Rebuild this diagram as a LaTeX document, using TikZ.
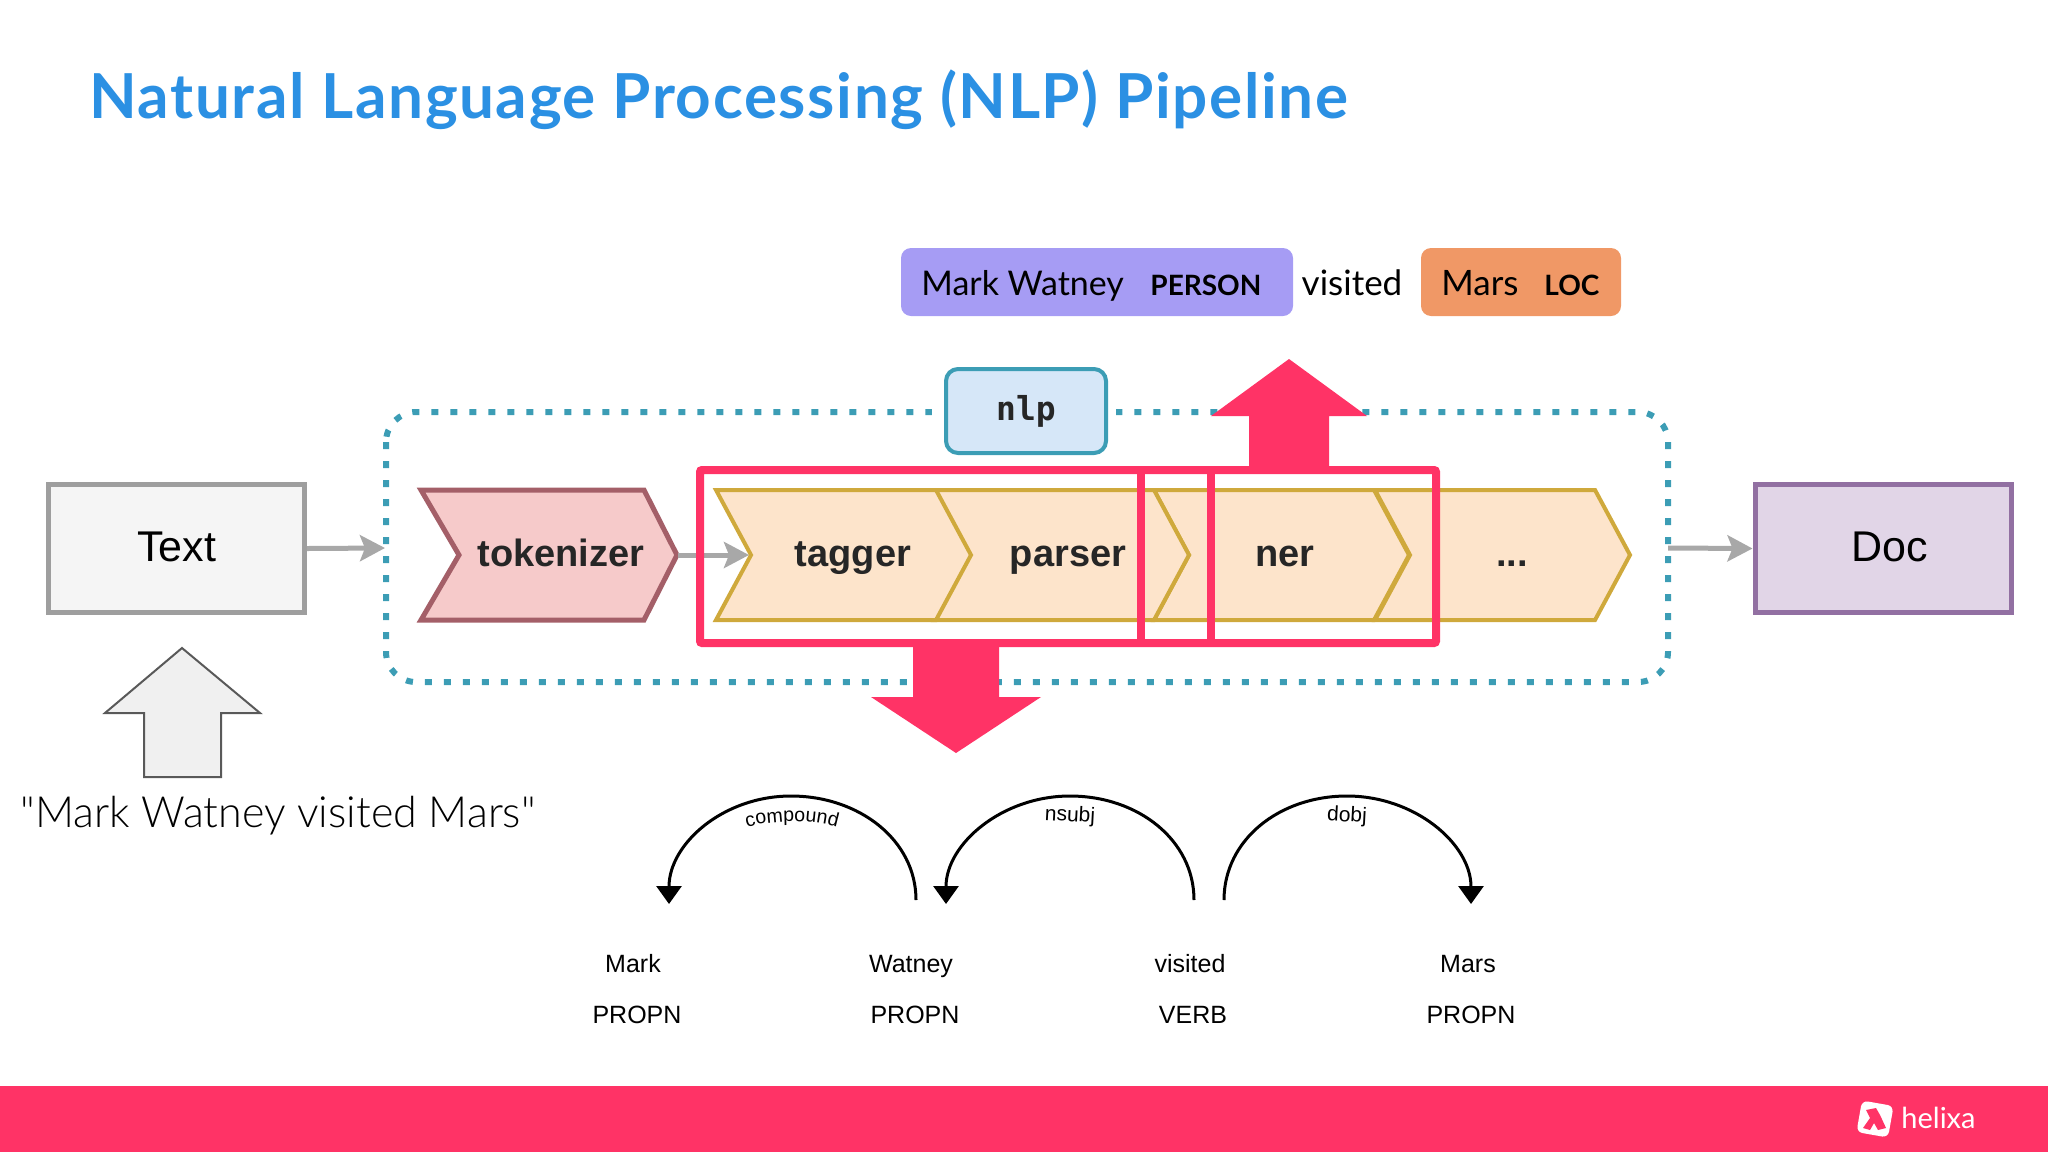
\documentclass[tikz,border=0pt]{standalone}
\usepackage{fontspec}
\setmainfont{Lato}
\newfontfamily\labelfont{Liberation Sans}
\newfontfamily\codefont{DejaVu Sans Mono}
\newfontfamily\quotefont{Lato Light}
\usetikzlibrary{arrows.meta,decorations.text}
\definecolor{hlblue}{HTML}{2B90E3}
\definecolor{hlred}{HTML}{FF3366}
\definecolor{dotteal}{HTML}{3C9DB5}
\definecolor{chevfill}{HTML}{FDE4CB}
\definecolor{chevline}{HTML}{CFA93C}
\definecolor{tokfill}{HTML}{F6CACA}
\definecolor{tokline}{HTML}{A45F68}
\definecolor{greyarrow}{HTML}{A8A8A8}
\tikzset{
	flowbox/.style={draw, line width=2.5pt, minimum width=128pt, minimum height=64pt, inner sep=0pt, font=\labelfont\fontsize{21.5}{24}\selectfont},
	chevtext/.style={font=\labelfont\bfseries\fontsize{19}{22}\selectfont, text=black!85, anchor=base},
	wordlabel/.style={font=\labelfont\fontsize{12.5}{15}\selectfont, anchor=base},
	arclabel/.style={font=\labelfont\fontsize{10.5}{12}\selectfont},
	deparc/.style={line width=1.5pt, -{Triangle[length=9pt,width=12.5pt]}},
	entbox/.style={rounded corners=5pt, minimum height=34pt, inner sep=0pt},
	enttext/.style={font=\fontsize{17.5}{21}\selectfont, anchor=base west},
	enttag/.style={font=\bfseries\fontsize{14}{17}\selectfont, anchor=base west},
	flowarrow/.style={draw=greyarrow, line width=2.5pt, -{Stealth[length=12.5pt,width=13pt,inset=2.5pt]}}
}
\begin{document}
\begin{tikzpicture}[x=0.5pt,y=-0.5pt]
	\useasboundingbox (0,0) rectangle (2048,1152);
	% geometry of the chevrons
	\def\H{130} \def\W{220} \def\TIP{35} \def\BASE{76}
	\pgfmathsetmacro{\HalfH}{0.5*\H}
	\pgfmathsetmacro{\WplusTIP}{\W+\TIP}
	
	% Title
	\node[anchor=base west, inner sep=0pt, text=hlblue, font=\bfseries\fontsize{31}{36}\selectfont\addfontfeature{LetterSpace=2.6}] (title) at (89,118) {Natural Language Processing (NLP) Pipeline};
	
	% Bottom bar
	\fill[hlred] (0,1086) rectangle (2048,1152);
	\node[fill=white, rounded corners=3pt, minimum size=16pt, inner sep=0pt, rotate=-10] (logobox) at (1875,1119) {};
	\fill[hlred] (1866,1110) -- (1876,1108) -- (1880,1115) -- (1886,1128) -- (1878,1130) -- (1874,1123) -- (1870,1130) -- (1863,1128) -- (1870,1118) -- cycle;
	\node[anchor=base west, inner sep=0pt, text=white, font=\fontsize{14.5}{17}\selectfont] (logotext) at (1901,1128) {helixa};
	
	% Entities
	\node[entbox, minimum width=196pt, fill={rgb,255:red,166;green,156;blue,244}] (persbox) at (1097,282) {};
	\node[entbox, minimum width=100pt, fill={rgb,255:red,240;green,152;blue,102}] (locbox) at (1521,282) {};
	\node[enttext, inner sep=0pt, font=\fontsize{17}{21}\selectfont] (persname) at (921,295) {Mark Watney};
	\node[enttag, inner sep=0pt] (perstag) at (1150,295) {PERSON};
	\node[enttext, inner sep=0pt, anchor=base] (visited) at (1352,295) {visited};
	\node[enttext, inner sep=0pt] (locname) at (1441,295) {Mars};
	\node[enttag, inner sep=0pt] (loctag) at (1544,295) {LOC};
	
	% Dotted pipeline frame
	\draw[dotteal, line width=3pt, dash pattern=on 3.5pt off 6pt, rounded corners=15pt] (386,412) rectangle (1668,682);
	\fill[white] (932,395) rectangle (1116,430);
	\node[draw=dotteal, fill={rgb,255:red,214;green,231;blue,248}, line width=2pt, rounded corners=6pt, minimum width=80pt, minimum height=42pt, inner sep=0pt, font=\codefont\bfseries\fontsize{16.5}{20}\selectfont, text=black!85] (nlp) at (1026,411) {nlp};
	
	% Text and Doc
	\node[flowbox, draw=black!38, fill=black!4] (textbox) at (176.5,548.5) {\raisebox{1.5pt}{Text}};
	\node[flowbox, draw={rgb,255:red,146;green,112;blue,162}, fill={rgb,255:red,225;green,213;blue,231}] (docbox) at (1883,548.5) {\hspace{7pt}\raisebox{1.5pt}{Doc}};
	\coordinate (frameL) at (385,548);
	\coordinate (frameR) at (1668,548);
	\draw[flowarrow] (textbox.east) -- (frameL);
	\draw[flowarrow] (frameR) -- (docbox.west);
	
	% Tokenizer
	\begin{scope}[shift={(421,490)}]
		\path[draw=tokline, fill=tokfill, line width=2.5pt, line join=miter]
		(0,0) -- (223,0) -- (256,\HalfH) -- (223,\H) -- (0,\H) -- (38,\HalfH) -- cycle;
		\node[chevtext] (tokenizer) at (140,\BASE) {tokenizer};
	\end{scope}
	
	% Dots
	\begin{scope}[shift={(1375,490)}]
		\path[draw=chevline, fill=chevfill, line width=2pt, line join=miter]
		(0,0) -- (\W,0) -- (\WplusTIP,\HalfH) -- (\W,\H) -- (0,\H) -- (\TIP,\HalfH) -- cycle;
		\node[chevtext] (dots) at (137,\BASE) {...};
	\end{scope}
	
	% Ner
	\begin{scope}[shift={(1154,490)}]
		\path[draw=chevline, fill=chevfill, line width=2pt, line join=miter]
		(0,0) -- (\W,0) -- (\WplusTIP,\HalfH) -- (\W,\H) -- (0,\H) -- (\TIP,\HalfH) -- cycle;
		\node[chevtext] (ner) at (131,\BASE) {ner};
	\end{scope}
	
	% Parser
	\begin{scope}[shift={(934,490)}]
		\path[draw=chevline, fill=chevfill, line width=2pt, line join=miter]
		(0,0) -- (\W,0) -- (\WplusTIP,\HalfH) -- (\W,\H) -- (0,\H) -- (\TIP,\HalfH) -- cycle;
		\node[chevtext] (parser) at (134,\BASE) {parser};
	\end{scope}
	
	% Tagger
	\begin{scope}[shift={(716,490)}]
		\path[draw=chevline, fill=chevfill, line width=2pt, line join=miter]
		(0,0) -- (\W,0) -- (\WplusTIP,\HalfH) -- (\W,\H) -- (0,\H) -- (\TIP,\HalfH) -- cycle;
		\node[chevtext] (tagger) at (137,\BASE) {tagger};
	\end{scope}
	
	% Arrow into the tagger
	\coordinate (tokTip) at (678,555);
	\coordinate (tagNotch) at (749,555);
	\draw[flowarrow] (tokTip) -- (tagNotch);
	
	% Red frames and block arrows
	\draw[hlred, line width=4pt, rounded corners=1pt] (700,470) rectangle (1436,643);
	\draw[hlred, line width=4pt] (1141,470) -- (1141,643);
	\draw[hlred, line width=4pt] (1211,470) -- (1211,643);
	\fill[hlred] (1289,359) -- (1367,416) -- (1329,416) -- (1329,468) -- (1249,468) -- (1249,416) -- (1211,416) -- cycle;
	\fill[hlred] (913,645) -- (999,645) -- (999,697) -- (1041,697) -- (956,753) -- (871,697) -- (913,697) -- cycle;
	
	% Input arrow and sentence
	\draw[draw=black!65, fill=black!6, line width=1pt]
	(182,648) -- (260,713) -- (221,713) -- (221,777) -- (144,777) -- (144,713) -- (105,713) -- cycle;
	\node[anchor=base west, inner sep=0pt, font=\quotefont\fontsize{21.5}{25}\selectfont] (sentence) at (20,827) {"Mark Watney visited Mars"};
	
	% Dependency words
	\node[wordlabel] (wMark) at (633,972) {Mark};
	\node[wordlabel] (wWatney) at (911,972) {Watney};
	\node[wordlabel] (wVisited) at (1190,972) {visited};
	\node[wordlabel] (wMars) at (1468,972) {Mars};
	\node[wordlabel] (pMark) at (637,1023) {PROPN};
	\node[wordlabel] (pWatney) at (915,1023) {PROPN};
	\node[wordlabel] (pVisited) at (1193,1023) {VERB};
	\node[wordlabel] (pMars) at (1471,1023) {PROPN};
	
	% Dependency arcs
	\coordinate (compS) at (916,900); \coordinate (compT) at (791,796); \coordinate (compE) at (669,904);
	\coordinate (nsubS) at (1194,900); \coordinate (nsubT) at (1070,796); \coordinate (nsubE) at (946,904);
	\coordinate (dobjS) at (1224,900); \coordinate (dobjT) at (1347,796); \coordinate (dobjE) at (1471,904);
	\draw[deparc] (compS) .. controls +(0,-60) and +(68,0) .. (compT) .. controls +(-68,0) and +(0,-60) .. (compE);
	\draw[deparc] (nsubS) .. controls +(0,-60) and +(68,0) .. (nsubT) .. controls +(-68,0) and +(0,-60) .. (nsubE);
	\draw[deparc] (dobjS) .. controls +(0,-60) and +(-68,0) .. (dobjT) .. controls +(68,0) and +(0,-60) .. (dobjE);
	\path[decorate, decoration={text along path, text align=center, text={|\labelfont\fontsize{9.8}{12}\selectfont|compound}}]
	(742,829) .. controls (770,819) and (815,819) .. (842,829);
	\node[arclabel, rotate=-3] (lNsub) at (1070,816) {nsubj};
	\node[arclabel, rotate=-3] (lDobj) at (1347,816) {dobj};
\end{tikzpicture}
\end{document}
